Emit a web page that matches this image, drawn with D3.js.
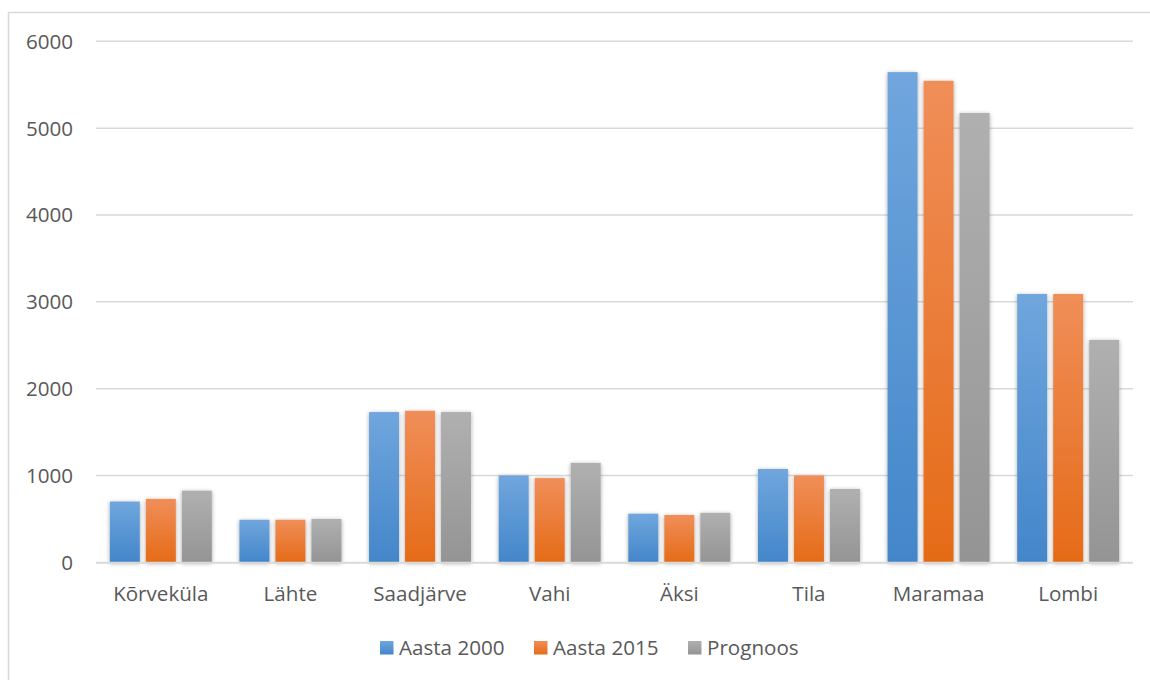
<!DOCTYPE html>
<html>
<head>
<meta charset="utf-8">
<script src="https://cdn.jsdelivr.net/npm/d3@7"></script>
<style>
  html, body { margin: 0; padding: 0; background: #fff; }
  svg { display: block; }
  text { font-family: "Open Sans", "Noto Sans", sans-serif; fill: #595959; }
</style>
</head>
<body>
<svg id="chart" width="1150" height="680"></svg>
<script>
// Village populations
const categories = ["Kõrveküla", "Lähte", "Saadjärve", "Vahi", "Äksi", "Tila", "Maramaa", "Lombi"];
const seriesNames = ["Aasta 2000", "Aasta 2015", "Prognoos"];
const aasta2000 = [700, 490, 1730, 1000, 560, 1075, 5645, 3090];
const aasta2015 = [730, 490, 1745, 970, 545, 1000, 5545, 3090];
const prognoos  = [825, 500, 1730, 1145, 570, 845, 5175, 2560];
const yTicks = [0, 1000, 2000, 3000, 4000, 5000, 6000];

const seriesValues = [aasta2000, aasta2015, prognoos];
const colors = [
  { top: "#70a6dd", bottom: "#4386ca" },
  { top: "#f08e59", bottom: "#e56b17" },
  { top: "#b0b0b0", bottom: "#949494" }
];

const svg = d3.select("#chart");
const plot = { left: 96, right: 1133, top: 41.3, bottom: 562.3 };
const fontSize = "20.6px";

// Outer frame
svg.append("rect")
  .attr("x", 8.5).attr("y", 12.5)
  .attr("width", 1160).attr("height", 700)
  .attr("fill", "none").attr("stroke", "#d9d9d9").attr("stroke-width", 1.5);

const defs = svg.append("defs");
colors.forEach((c, i) => {
  const g = defs.append("linearGradient")
    .attr("id", "grad" + i).attr("x1", 0).attr("y1", 0).attr("x2", 0).attr("y2", 1);
  g.append("stop").attr("offset", "0%").attr("stop-color", c.top);
  g.append("stop").attr("offset", "100%").attr("stop-color", c.bottom);
});
const f = defs.append("filter").attr("id", "shadow")
  .attr("x", "-30%").attr("y", "-10%").attr("width", "160%").attr("height", "120%");
f.append("feDropShadow").attr("dx", 0).attr("dy", 1).attr("stdDeviation", 2.2)
  .attr("flood-color", "#000").attr("flood-opacity", 0.35);

const y = d3.scaleLinear().domain([0, 6000]).range([plot.bottom, plot.top]);
const x0 = d3.scaleBand().domain(categories).range([plot.left, plot.right]);
const groupWidth = 102;
const x1 = d3.scaleBand().domain(seriesNames).range([0, groupWidth]).paddingInner(1 / 6);
const groupOffset = (x0.bandwidth() - groupWidth) / 2;

// Gridlines
svg.append("g").selectAll("line").data(yTicks.filter(t => t > 0)).join("line")
  .attr("x1", plot.left).attr("x2", plot.right)
  .attr("y1", d => y(d)).attr("y2", d => y(d))
  .attr("stroke", "#d9d9d9").attr("stroke-width", 1.5);

// Y tick labels
svg.append("g").selectAll("text").data(yTicks).join("text")
  .attr("x", 73).attr("y", d => y(d) + 7.5)
  .attr("text-anchor", "end")
  .style("font-size", fontSize)
  .text(d => d);

// Bars
const groups = svg.append("g").selectAll("g").data(categories).join("g")
  .attr("transform", c => `translate(${x0(c) + groupOffset},0)`);
groups.selectAll("rect")
  .data((c, ci) => seriesNames.map((s, si) => ({ s, si, v: seriesValues[si][ci] })))
  .join("rect")
  .attr("x", d => x1(d.s))
  .attr("y", d => y(d.v))
  .attr("width", x1.bandwidth())
  .attr("height", d => y(0) - y(d.v))
  .attr("fill", d => `url(#grad${d.si})`)
  .attr("filter", "url(#shadow)");

// Baseline
svg.append("line")
  .attr("x1", plot.left).attr("x2", plot.right)
  .attr("y1", y(0) + 0.5).attr("y2", y(0) + 0.5)
  .attr("stroke", "#d9d9d9").attr("stroke-width", 2);

// Category labels
svg.append("g").selectAll("text").data(categories).join("text")
  .attr("x", c => x0(c) + x0.bandwidth() / 2)
  .attr("y", 600.5)
  .attr("text-anchor", "middle")
  .style("font-size", fontSize)
  .text(c => c);

// Legend
const legendItems = [
  { name: seriesNames[0], x: 380 },
  { name: seriesNames[1], x: 534 },
  { name: seriesNames[2], x: 688 }
];
const lg = svg.append("g").selectAll("g").data(legendItems).join("g")
  .attr("transform", d => `translate(${d.x},641)`);
lg.append("rect").attr("width", 13.5).attr("height", 13.5)
  .attr("fill", (d, i) => `url(#grad${i})`);
lg.append("text").attr("x", 19).attr("y", 14)
  .style("font-size", fontSize)
  .text(d => d.name);
</script>
</body>
</html>
